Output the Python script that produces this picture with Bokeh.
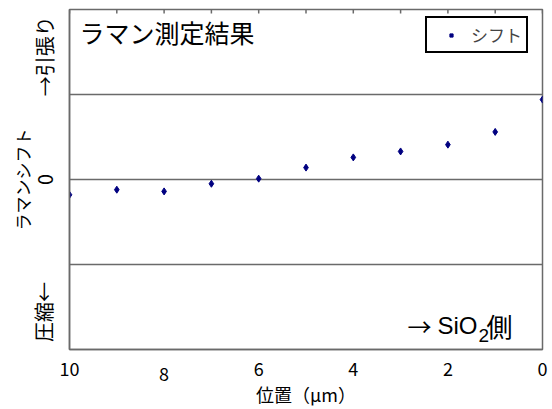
from bokeh.plotting import figure
from bokeh.models import Range1d, LinearAxis, FixedTicker, Label, Legend, LegendItem, ColumnDataSource
from bokeh.embed import file_html
from bokeh.resources import INLINE

# ---- data ----
positions = [10, 9, 8, 7, 6, 5, 4, 3, 2, 1, 0]
shifts = [-0.18, -0.12, -0.14, -0.05, 0.01, 0.14, 0.26, 0.33, 0.41, 0.56, 0.94]
x_ticks = [10, 8, 6, 4, 2, 0]
x_tick_labels = ["10", "\n8", "6", "4", "2", "0"]
y_ticks = [-1.56, 0, 1.45]
y_tick_labels = ["圧縮←", "0", "→引張り"]
y_grid = [-1, 0, 1]
series_name = "シフト"

FONT = "Noto Sans CJK JP"
LATIN = "Liberation Sans"
LINE = "#6a6a6a"
NAVY = "#000080"
L, T = 69, 9          # frame left/top in px
W, H = 552, 409
FB = 352              # frame bottom px
TOP_TICK_PX = 4

def sx(px):
    return px - L

def sy(py):
    return FB - py

yr = Range1d(-2, 2)
p = figure(width=W, height=H, output_backend="svg", toolbar_location=None,
           x_range=Range1d(10, 0), y_range=yr,
           x_axis_type=None, y_axis_type=None,
           min_border_left=L, min_border_right=W - 542, min_border_top=T,
           min_border_bottom=H - FB)
p.background_fill_color = "white"
p.border_fill_color = "white"
p.outline_line_color = LINE
p.outline_line_width = 1.5

# bottom axis
xb = LinearAxis(ticker=FixedTicker(ticks=x_ticks))
xb.major_label_overrides = {t: lab for t, lab in zip(x_ticks, x_tick_labels)}
xb.major_tick_line_color = None
xb.minor_tick_line_color = None
xb.axis_line_color = LINE
xb.axis_line_width = 1.5
xb.major_label_text_font = FONT
xb.major_label_text_font_size = "18px"
xb.major_label_text_line_height = 0.2
xb.major_label_text_color = "black"
xb.major_label_standoff = -1
xb.axis_label = "位置（μm）"
xb.axis_label_text_font = FONT
xb.axis_label_text_font_size = "18px"
xb.axis_label_text_font_style = "normal"
xb.axis_label_text_color = "black"
xb.axis_label_standoff = -8
p.add_layout(xb, "below")

# left axis
yl = LinearAxis(ticker=FixedTicker(ticks=y_ticks))
yl.major_label_overrides = {t: lab for t, lab in zip(y_ticks, y_tick_labels)}
yl.major_label_orientation = "parallel"
yl.major_tick_line_color = None
yl.minor_tick_line_color = None
yl.axis_line_color = LINE
yl.axis_line_width = 1.5
yl.major_label_text_font = FONT
yl.major_label_text_font_size = "20px"
yl.major_label_text_color = "black"
yl.major_label_standoff = 5
yl.axis_label = "ラマンシフト"
yl.axis_label_text_font = FONT
yl.axis_label_text_font_size = "17px"
yl.axis_label_text_font_style = "normal"
yl.axis_label_text_color = "black"
yl.axis_label_standoff = -8
p.add_layout(yl, "left")

# horizontal grid lines
for g in y_grid:
    p.line(x=[positions[0], positions[-1]], y=[g, g], line_color=LINE, line_width=1.5)

# small inward tick marks along the top edge
tick_len = TOP_TICK_PX * (yr.end - yr.start) / (FB - T)
p.segment(x0=positions, x1=positions, y0=[yr.end] * len(positions),
          y1=[yr.end - tick_len] * len(positions), line_color=LINE, line_width=1.5)

r = p.scatter(x=positions, y=shifts, marker="diamond", size=7,
              fill_color=NAVY, line_color=NAVY)
# legend swatch: small square, no visible point of its own
proxy = p.scatter(x="x", y="y",
                  source=ColumnDataSource(data=dict(x=[float("nan")], y=[float("nan")])),
                  marker="square", size=3, fill_color=NAVY, line_color=NAVY)

legend = Legend(items=[LegendItem(label=series_name, renderers=[proxy])],
                location=(sx(425), sy(56)), border_line_color="black",
                border_line_width=2, border_line_alpha=1.0,
                background_fill_color="white", background_fill_alpha=1.0,
                label_text_font=FONT, label_text_font_size="17px",
                padding=4, glyph_width=40, glyph_height=8, label_standoff=0,
                spacing=0, margin=0)
p.add_layout(legend)

def lab(text, px, py, size, font=FONT, align="center", baseline="middle"):
    p.add_layout(Label(x=sx(px), y=sy(py), x_units="screen", y_units="screen",
                       text=text, text_font=font, text_font_size=size,
                       text_align=align, text_baseline=baseline, text_color="black"))

lab("ラマン測定結果", 79, 34, "25px", align="left")
lab("→", 419, 328, "24px")
lab("SiO", 437, 328, "24px", font=LATIN, align="left")
lab("2", 478, 338, "19px", font=LATIN, align="left")
lab("側", 486, 328, "26px", align="left")

open("out.html", "w").write(file_html(p, INLINE))
